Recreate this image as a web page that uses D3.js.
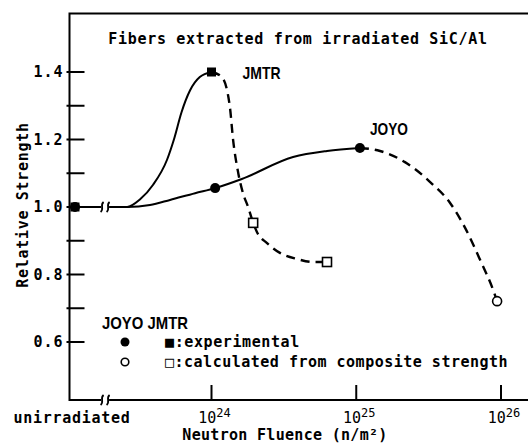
<!DOCTYPE html>
<html>
<head>
<meta charset="utf-8">
<script src="https://cdn.jsdelivr.net/npm/d3@7"></script>
<style>
  body { margin: 0; background: #fff; }
  text { font-family: "DejaVu Sans Mono", "Liberation Mono", monospace; font-weight: bold; fill: #000; }
  .lbl { font-family: "Liberation Sans", Arial, sans-serif; font-weight: bold; }
</style>
</head>
<body>
<script>
// position used on the log axis for the "unirradiated" reference and the axis break
var UNIRR = 1.14e23,
    BREAK = 1.84e23;

var xTicks = [1e24, 1e25, 1e26],
    yMajor = [0.6, 0.8, 1.0, 1.2, 1.4],
    yMinor = [0.7, 0.9, 1.1, 1.3];

// JOYO, solid curve through experimental points
var joyoSolidF = [UNIRR, 2.61e23, 3.76e23, 5.17e23, 7.7e23, 1.06e24, 1.62e24, 3.66e24, 6.28e24, 1.06e25],
    joyoSolidS = [1.0, 1.0, 1.006, 1.021, 1.041, 1.056, 1.083, 1.148, 1.166, 1.175];
// JOYO, dashed curve down to the calculated point
var joyoDashF = [1.06e25, 1.46e25, 2.17e25, 3.24e25, 4.45e25, 5.65e25, 7.18e25, 8.83e25, 9.4e25],
    joyoDashS = [1.175, 1.166, 1.133, 1.074, 1.012, 0.938, 0.843, 0.754, 0.721];
// JMTR, solid curve
var jmtrSolidF = [UNIRR, 2.61e23, 3.2e23, 3.95e23, 4.93e23, 5.5e23, 6.2e23, 7.1e23, 8.3e23, 1.0e24],
    jmtrSolidS = [1.0, 1.0, 1.022, 1.066, 1.14, 1.2, 1.28, 1.345, 1.385, 1.40];
// JMTR, dashed curve
var jmtrDashF = [1.0e24, 1.18e24, 1.34e24, 1.41e24, 1.53e24, 1.65e24, 1.79e24, 1.94e24, 2.06e24, 2.42e24, 2.97e24, 3.9e24, 5.02e24, 6.28e24],
    jmtrDashS = [1.40, 1.385, 1.296, 1.199, 1.101, 1.041, 1.0, 0.953, 0.926, 0.893, 0.864, 0.846, 0.837, 0.837];

// markers
var joyoExpF = [UNIRR, 1.06e24, 1.06e25], joyoExpS = [1.0, 1.056, 1.175];
var jmtrExpF = [UNIRR, 1.0e24], jmtrExpS = [1.0, 1.40];
var joyoCalcF = [9.4e25], joyoCalcS = [0.721];
var jmtrCalcF = [1.94e24, 6.28e24], jmtrCalcS = [0.953, 0.837];

var width = 528, height = 444,
    axisX = 69.5, axisTop = 13.5, axisBottom = 400;

var svg = d3.select("body").append("svg")
    .attr("width", width)
    .attr("height", height);

var x = d3.scaleLog().domain([1e24, 1e26]).range([211.5, 501]);
var y = d3.scaleLinear().domain([0.6, 1.4]).range([342, 72]);

function pts(f, s) {
    return f.map(function(v, i) { return [x(v), y(s[i])]; });
}

// frame: left axis, top line, bottom axis
svg.append("path")
    .attr("d", "M" + width + "," + axisTop + "H" + axisX + "V" + axisBottom + "H" + width)
    .attr("fill", "none")
    .attr("stroke", "#000")
    .attr("stroke-width", 2);

// y ticks (inside)
svg.selectAll(".ytick")
    .data(yMajor.concat(yMinor))
    .enter().append("line")
    .attr("x1", axisX - 3)
    .attr("x2", axisX + 15)
    .attr("y1", function(d) { return y(d); })
    .attr("y2", function(d) { return y(d); })
    .attr("stroke", "#000")
    .attr("stroke-width", 2);

svg.selectAll(".ylab")
    .data(yMajor)
    .enter().append("text")
    .attr("x", axisX - 6)
    .attr("y", function(d) { return y(d) + 5; })
    .attr("text-anchor", "end")
    .attr("font-size", 15)
    .style("letter-spacing", "1px")
    .text(function(d) { return d.toFixed(1); });

// x ticks (inside)
svg.selectAll(".xtick")
    .data(xTicks)
    .enter().append("line")
    .attr("x1", function(d) { return x(d); })
    .attr("x2", function(d) { return x(d); })
    .attr("y1", axisBottom)
    .attr("y2", axisBottom - 15)
    .attr("stroke", "#000")
    .attr("stroke-width", 2);

var xl = svg.selectAll(".xlab")
    .data(xTicks)
    .enter().append("text")
    .attr("x", function(d) { return x(d) + 3; })
    .attr("y", 423)
    .attr("text-anchor", "middle")
    .attr("font-size", 15)
    .style("font-weight", "normal");
xl.append("tspan").text("10");
xl.append("tspan")
    .attr("font-size", 12)
    .attr("dy", -6)
    .text(function(d) { return Math.round(Math.log10(d)); });

svg.append("text")
    .attr("x", x(UNIRR) - 3)
    .attr("y", 423)
    .attr("text-anchor", "middle")
    .attr("font-size", 15)
    .style("letter-spacing", "0.7px")
    .text("unirradiated");

svg.append("text")
    .attr("x", 285)
    .attr("y", 440)
    .attr("text-anchor", "middle")
    .attr("font-size", 15)
    .style("letter-spacing", "0.3px")
    .text("Neutron Fluence (n/m²)");

svg.append("text")
    .attr("transform", "translate(28,205) rotate(-90)")
    .attr("text-anchor", "middle")
    .attr("font-size", 15)
    .style("letter-spacing", "0.7px")
    .text("Relative Strength");

svg.append("text")
    .attr("x", 298)
    .attr("y", 44)
    .attr("text-anchor", "middle")
    .attr("font-size", 15)
    .style("letter-spacing", "0.7px")
    .text("Fibers extracted from irradiated SiC/Al");

// curves
var line = d3.line().curve(d3.curveMonotoneX);

svg.append("path").attr("d", line(pts(joyoSolidF, joyoSolidS)))
    .attr("fill", "none").attr("stroke", "#000").attr("stroke-width", 2);
svg.append("path").attr("d", line(pts(jmtrSolidF, jmtrSolidS)))
    .attr("fill", "none").attr("stroke", "#000").attr("stroke-width", 2);
svg.append("path").attr("d", line(pts(joyoDashF, joyoDashS)))
    .attr("fill", "none").attr("stroke", "#000").attr("stroke-width", 2.4)
    .attr("stroke-dasharray", "9,6");
svg.append("path").attr("d", line(pts(jmtrDashF, jmtrDashS)))
    .attr("fill", "none").attr("stroke", "#000").attr("stroke-width", 2.4)
    .attr("stroke-dasharray", "9,6");

// break marks on the curve and on the x axis
[y(1.0), axisBottom].forEach(function(yy) {
    var bx = x(BREAK);
    svg.append("rect")
        .attr("x", bx - 4).attr("y", yy - 3)
        .attr("width", 8).attr("height", 6)
        .attr("fill", "#fff");
    [-3, 3].forEach(function(o) {
        svg.append("path")
            .attr("d", "M" + (bx + o - 1.5) + "," + (yy + 5) +
                 " C" + (bx + o + 2.5) + "," + (yy + 2) + " " + (bx + o - 2.5) + "," + (yy - 2) +
                 " " + (bx + o + 1.5) + "," + (yy - 5))
            .attr("fill", "none")
            .attr("stroke", "#000")
            .attr("stroke-width", 1.8);
    });
});

// markers
svg.selectAll(".joyoExp").data(pts(joyoExpF, joyoExpS)).enter().append("circle")
    .attr("cx", function(d) { return d[0]; }).attr("cy", function(d) { return d[1]; })
    .attr("r", 5).attr("fill", "#000");
svg.selectAll(".jmtrExp").data(pts(jmtrExpF, jmtrExpS)).enter().append("rect")
    .attr("x", function(d) { return d[0] - 4.5; }).attr("y", function(d) { return d[1] - 4.5; })
    .attr("width", 9).attr("height", 9).attr("fill", "#000");
svg.selectAll(".joyoCalc").data(pts(joyoCalcF, joyoCalcS)).enter().append("circle")
    .attr("cx", function(d) { return d[0]; }).attr("cy", function(d) { return d[1]; })
    .attr("r", 4.5).attr("fill", "#fff").attr("stroke", "#000").attr("stroke-width", 1.6);
svg.selectAll(".jmtrCalc").data(pts(jmtrCalcF, jmtrCalcS)).enter().append("rect")
    .attr("x", function(d) { return d[0] - 4.5; }).attr("y", function(d) { return d[1] - 4.5; })
    .attr("width", 9).attr("height", 9)
    .attr("fill", "#fff").attr("stroke", "#000").attr("stroke-width", 1.6);

// series labels (narrow sans)
svg.append("text").attr("class", "lbl")
    .attr("x", x(jmtrExpF[1]) + 31).attr("y", y(jmtrExpS[1]) + 7)
    .attr("font-size", 17)
    .attr("textLength", 38).attr("lengthAdjust", "spacingAndGlyphs")
    .text("JMTR");
svg.append("text").attr("class", "lbl")
    .attr("x", x(joyoExpF[2]) + 10).attr("y", y(joyoExpS[2]) - 13)
    .attr("font-size", 17)
    .attr("textLength", 38).attr("lengthAdjust", "spacingAndGlyphs")
    .text("JOYO");

// legend
svg.append("text").attr("class", "lbl")
    .attr("x", 102).attr("y", 329)
    .attr("font-size", 17)
    .attr("textLength", 86).attr("lengthAdjust", "spacingAndGlyphs")
    .text("JOYO JMTR");
svg.append("circle").attr("cx", 125).attr("cy", 342).attr("r", 4.5).attr("fill", "#000");
svg.append("circle").attr("cx", 125).attr("cy", 362).attr("r", 3.8)
    .attr("fill", "#fff").attr("stroke", "#000").attr("stroke-width", 1.6);
svg.append("text")
    .attr("x", 165).attr("y", 347)
    .attr("font-size", 15)
    .style("letter-spacing", "0.6px")
    .text("■:experimental");
svg.append("text")
    .attr("x", 165).attr("y", 367)
    .attr("font-size", 15)
    .style("letter-spacing", "0.5px")
    .text("□:calculated from composite strength");
</script>
</body>
</html>
